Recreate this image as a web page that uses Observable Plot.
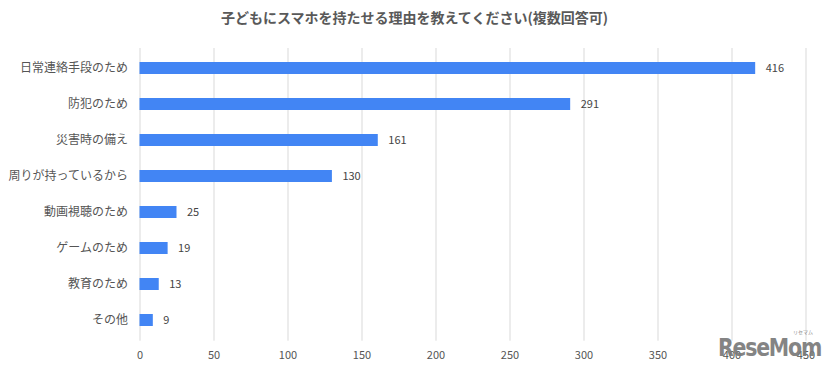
<!DOCTYPE html>
<html>
<head>
<meta charset="utf-8">
<script src="https://cdn.jsdelivr.net/npm/d3@7"></script>
<script src="https://cdn.jsdelivr.net/npm/@observablehq/plot@0.6"></script>
<style>
  html, body { margin: 0; padding: 0; background: #fff; }
  #wrap { position: relative; width: 829px; height: 370px; font-family: "Noto Sans CJK JP", "Noto Sans", sans-serif; }
  #title { height: 40px; line-height: 34px; text-align: center; font-size: 14px; font-weight: bold; color: #595959; }
  #chart svg { display: block; }
  #logo { position: absolute; left: 718px; top: 335px; font-family: "DejaVu Sans", sans-serif; font-weight: bold; font-size: 25px; line-height: 25px; color: #7a7a7a; letter-spacing: -1.5px; transform: scaleX(0.82); transform-origin: left top; opacity: 0.92; white-space: nowrap; }
  #logo-kana { position: absolute; left: 793px; top: 329px; font-size: 5px; line-height: 6px; color: #888; white-space: nowrap; }
</style>
</head>
<body>
<div id="wrap">
  <div id="title">子どもにスマホを持たせる理由を教えてください(複数回答可)</div>
  <div id="chart"></div>
  <div id="logo">ReseMom</div>
  <div id="logo-kana">リセマム</div>
</div>
<script>
const categories = ["日常連絡手段のため", "防犯のため", "災害時の備え", "周りが持っているから", "動画視聴のため", "ゲームのため", "教育のため", "その他"];
const values = [416, 291, 161, 130, 25, 19, 13, 9];
const xTicks = [0, 50, 100, 150, 200, 250, 300, 350, 400, 450];

const data = categories.map((c, i) => ({category: c, value: values[i]}));

const chart = Plot.plot({
  width: 829,
  height: 330,
  marginTop: 8,
  marginBottom: 29.3,
  marginLeft: 139.5,
  marginRight: 23.5,
  style: {fontFamily: "'Noto Sans CJK JP', 'Noto Sans', sans-serif", fontSize: "11px", color: "#555"},
  x: {domain: [0, 450], ticks: xTicks, label: null},
  y: {domain: categories, paddingInner: 0.655, paddingOuter: 0.3275, label: null},
  marks: [
    Plot.gridX(xTicks, {stroke: "#d9d9d9", strokeOpacity: 1, strokeWidth: 1}),
    Plot.barX(data, {x: "value", y: "category", fill: "#4285f4"}),
    Plot.text(data, {x: "value", y: "category", text: d => String(d.value), textAnchor: "start", dx: 10, fill: "#444", fontSize: 11}),
    Plot.axisX(xTicks, {tickSize: 0, tickPadding: 10, fill: "#555", fontSize: 11, label: null}),
    Plot.axisY({tickSize: 0, tickPadding: 12, fill: "#555", fontSize: 12, label: null})
  ]
});
document.getElementById("chart").appendChild(chart);
</script>
</body>
</html>
